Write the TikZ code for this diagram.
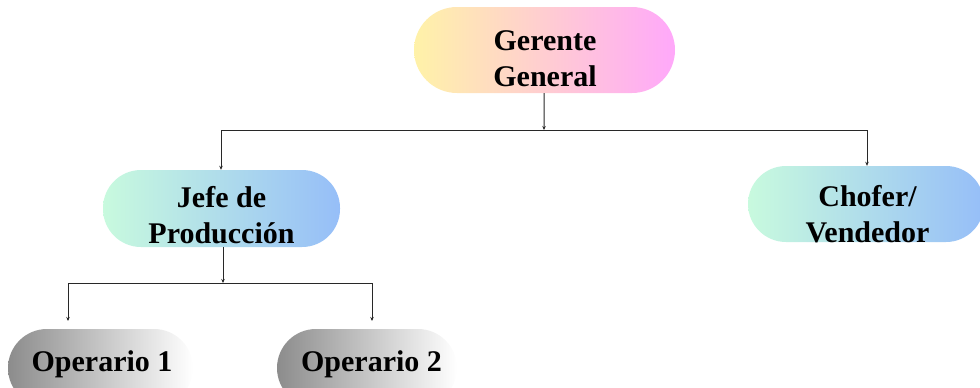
\documentclass[tikz,border=0pt]{standalone}
\usepackage{fontspec}
\setmainfont{Liberation Serif}
\usetikzlibrary{arrows.meta}
\definecolor{gerL}{RGB}{255,242,168}
\definecolor{gerR}{RGB}{255,168,250}
\definecolor{bluL}{RGB}{200,250,222}
\definecolor{bluR}{RGB}{150,190,248}
\definecolor{opL}{RGB}{140,140,140}
\definecolor{opR}{RGB}{255,255,255}
\definecolor{linec}{RGB}{40,40,40}
\begin{document}
\begin{tikzpicture}[x=1pt,y=-1pt,
  pillbox/.style={rectangle, inner sep=0pt, draw=none},
  gerfill/.style={left color=gerL, right color=gerR},
  blufill/.style={left color=bluL, right color=bluR},
  opfill/.style={left color=opL, right color=opR},
  txt/.style={font=\fontsize{30}{36}\selectfont\bfseries, align=center, inner sep=0pt, text=black},
  conn/.style={draw=linec, line width=1pt},
  arr/.style={conn, -{Stealth[length=4pt,width=3.5pt]}}]
\useasboundingbox (0,0) rectangle (980,388);
\clip (0,0) rectangle (980,388);
% boxes
\node[pillbox, gerfill, minimum width=261pt, minimum height=86pt, rounded corners=43pt] (ger) at (544.5,50) {};
\node[pillbox, blufill, minimum width=237pt, minimum height=77pt, rounded corners=38pt] (jefe) at (221.5,208.5) {};
\node[pillbox, blufill, minimum width=236pt, minimum height=76pt, rounded corners=38pt] (cho) at (866,204) {};
\node[pillbox, opfill, minimum width=185pt, minimum height=78pt, rounded corners=39pt] (op1) at (100.5,368) {};
\node[pillbox, opfill, minimum width=180pt, minimum height=78pt, rounded corners=39pt] (op2) at (367,368) {};
% texts
\node[txt] (gert) at (545,58.5) {Gerente\\General};
\node[txt] (jefet) at (221.5,215) {Jefe de\\Producción};
\node[txt] (chot) at (867.5,214) {Chofer/\\Vendedor};
\node[txt] (op1t) at (102,364) {Operario 1};
\node[txt] (op2t) at (371.5,364) {Operario 2};
% bus coordinates
\coordinate (busA) at (544,130);
\coordinate (busL) at (221,130);
\coordinate (busR) at (867,130);
\coordinate (busB) at (223,283);
\coordinate (busBL) at (68,283);
\coordinate (busBR) at (372,283);
\coordinate (op1in) at (68,321);
\coordinate (op2in) at (372,321);
% connectors
\draw[arr] (ger) -- (busA);
\draw[conn] (busL) -- (busR);
\draw[arr] (busL) -- (busL |- jefe.north);
\draw[arr] (busR) -- (busR |- cho.north);
\draw[arr] (busB |- jefe.south) -- (busB);
\draw[conn] (busBL) -- (busBR);
\draw[arr] (busBL) -- (op1in);
\draw[arr] (busBR) -- (op2in);
\end{tikzpicture}
\end{document}
